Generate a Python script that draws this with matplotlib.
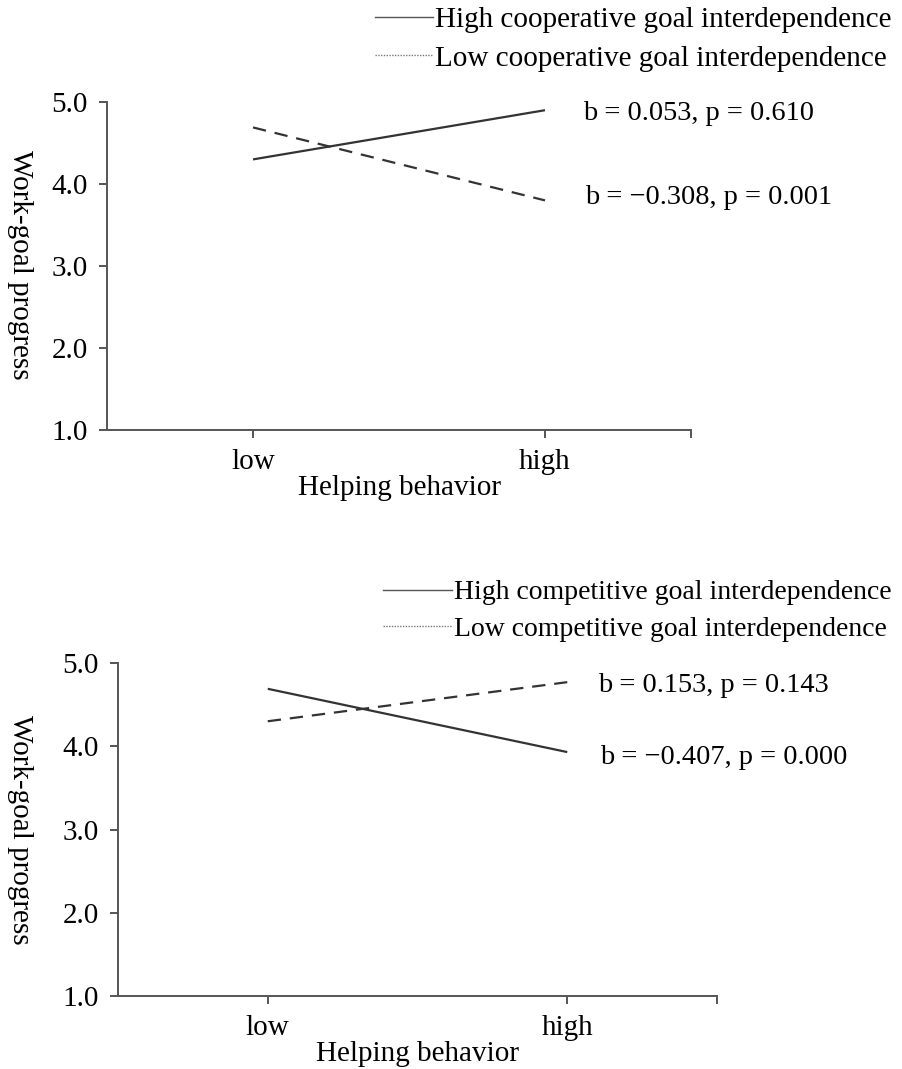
import matplotlib
matplotlib.use("Agg")
import matplotlib.pyplot as plt
from matplotlib.lines import Line2D

plt.rcParams['font.family'] = ['Liberation Serif', 'DejaVu Serif']

categories = ["low", "high"]
yticks = [1.0, 2.0, 3.0, 4.0, 5.0]

# Panel A: cooperative goal interdependence
coop_high = [4.30, 4.90]
coop_low = [4.69, 3.80]
coop_labels = ["High cooperative goal interdependence", "Low cooperative goal interdependence"]
coop_notes = ["b = 0.053, p = 0.610", "b = \u22120.308, p = 0.001"]

# Panel B: competitive goal interdependence
comp_high = [4.69, 3.93]
comp_low = [4.30, 4.77]
comp_labels = ["High competitive goal interdependence", "Low competitive goal interdependence"]
comp_notes = ["b = 0.153, p = 0.143", "b = \u22120.407, p = 0.000"]

W, H = 903, 1069
fig = plt.figure(figsize=(W/100, H/100), dpi=100)

FS = 21
NFS = 20.4
LC = '#333333'
SC = '#555555'

def panel(rect, high, low, labels, notes, leg_anchor, hlen, lfs, note_pos, ylab_pos):
    ax = fig.add_axes(rect)
    xs = [0.5, 1.5]
    ax.plot(xs, high, color=LC, lw=1.6, solid_capstyle='butt')
    ax.plot(xs, low, color=LC, lw=1.6, dashes=(6, 4))
    ax.set_xlim(0, 2)
    ax.set_ylim(1, 5)
    ax.set_yticks(yticks)
    ax.set_yticklabels([f"{v:.1f}" for v in yticks], fontsize=FS)
    ax.set_xticks([0.5, 1.5, 2.0])
    ax.set_xticklabels(categories + [""], fontsize=FS)
    for s in ['top', 'right']:
        ax.spines[s].set_visible(False)
    for s in ['left', 'bottom']:
        ax.spines[s].set_color(SC)
        ax.spines[s].set_linewidth(1.4)
    ax.tick_params(axis='both', direction='out', length=6, width=1.4, color=SC, pad=8)
    ax.set_xlabel("Helping behavior", fontsize=FS, labelpad=0)
    ax.set_ylabel("Work-goal progress", fontsize=FS, rotation=-90, va='center', ha='center')
    ax.yaxis.set_label_coords(ylab_pos[0] / W, 1 - ylab_pos[1] / H, transform=fig.transFigure)
    handles = [Line2D([], [], color='#555555', lw=1.0),
               Line2D([], [], color='#777777', lw=1.0, ls=(0, (1, 1)))]
    fig.legend(handles, labels, loc='upper left', bbox_to_anchor=leg_anchor,
               frameon=False, fontsize=lfs, handlelength=hlen, handletextpad=0.05,
               labelspacing=0.4, borderpad=0, borderaxespad=0)
    for (nx, ny), txt in zip(note_pos, notes):
        fig.text(nx / W, 1 - ny / H, txt, fontsize=NFS, va='center', ha='left')
    return ax

panel([107/W, 1-430/H, (691-107)/W, (430-102)/H], coop_high, coop_low,
      coop_labels, coop_notes, (375/W, 1-7/H), 2.0, FS,
      [(583, 113), (585, 197)], (20, 265))
panel([118/W, 1-996/H, (717-118)/W, (996-663)/H], comp_high, comp_low,
      comp_labels, comp_notes, (383/W, 1-580/H), 2.5, 20,
      [(598, 686), (600, 757)], (20, 830))

fig.savefig("out.png", dpi=100)
